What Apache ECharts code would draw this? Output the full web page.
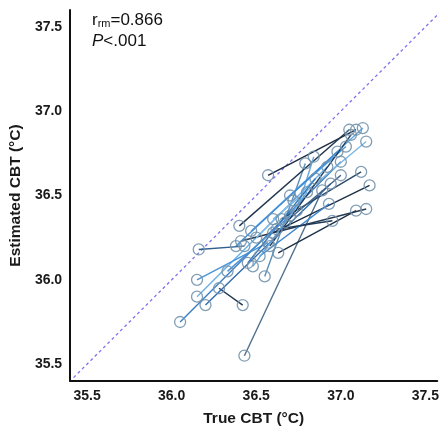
<!DOCTYPE html>
<html>
<head>
	<meta charset="UTF-8">
	<title>True vs estimated CBT</title>
	<script src="https://cdn.jsdelivr.net/npm/echarts@6/dist/echarts.min.js"></script>
	<style>
		html, body { margin: 0; padding: 0; background: #fff; }
		#chart { width: 442px; height: 432px; }
	</style>
</head>
<body>
	<div id="chart"></div>
	<script type="text/javascript">
		// 每个受试者的两次测量：真实核心体温 / 估计核心体温
		var trueCbt = [
			[36.57, 37.09], [36.05, 37.00], [36.43, 36.89], [36.42, 36.28],
			[36.20, 36.94], [36.15, 36.92], [36.15, 36.57], [36.16, 36.43],
			[36.55, 36.79], [36.63, 37.09], [36.40, 37.05], [36.47, 37.13],
			[36.41, 37.15], [36.60, 37.17], [36.60, 37.15], [36.65, 37.12],
			[36.70, 37.03], [36.67, 37.00], [36.52, 36.93], [36.74, 36.84],
			[36.45, 36.85], [36.50, 36.72], [36.62, 36.95], [36.38, 36.98],
			[36.48, 36.80], [36.58, 37.06], [36.33, 36.70]
		];
		var estCbt = [
			[36.62, 36.89], [35.75, 36.70], [35.55, 36.53], [35.85, 35.95],
			[35.85, 36.57], [35.90, 36.67], [36.00, 36.22], [36.18, 36.20],
			[36.02, 36.69], [36.16, 36.41], [36.32, 36.89], [36.29, 36.90],
			[36.23, 36.42], [36.28, 36.56], [36.36, 36.82], [36.36, 36.64],
			[36.50, 36.79], [36.34, 36.62], [36.14, 36.45], [36.41, 36.73],
			[36.10, 36.60], [36.25, 36.47], [36.30, 36.35], [36.20, 36.76],
			[36.08, 36.52], [36.20, 36.86], [36.05, 36.38]
		];
		var lineColors = [
			'#1c2b3f', '#3b7fc4', '#4f6f8c', '#1f3550', '#2f6bab', '#6ab0e6',
			'#4a94d8', '#2e5f8f', '#5a8fb8', '#1f3148', '#22364e', '#5aa8e8',
			'#263a52', '#1d3045', '#7cb8e6', '#2b4866', '#4b9ae0', '#3a5f85',
			'#3f88cf', '#68a9dc', '#2d74bd', '#7fbbe8', '#223a55', '#3d8ad6',
			'#5fa6e4', '#1e3a5c', '#4c8fd0'
		];
		var tickValues = [35.5, 36.0, 36.5, 37.0, 37.5];
		var identityLine = [35.42, 37.7];

		var myChart = echarts.init(document.getElementById('chart'));

		var series = [{
			type: 'line',
			data: identityLine.map(function (v) { return [v, v]; }),
			symbol: 'none',
			silent: true,
			clip: false,
			lineStyle: { color: '#7d72f0', width: 1.3, type: [3, 3] },
			z: 1
		}];

		trueCbt.forEach(function (xs, i) {
			series.push({
				type: 'line',
				data: xs.map(function (x, j) { return [x, estCbt[i][j]]; }),
				symbol: 'circle',
				symbolSize: 11,
				lineStyle: { color: lineColors[i], width: 1.4 },
				itemStyle: { color: 'rgba(0,0,0,0)', borderColor: '#7394ad', borderWidth: 1.3, opacity: 0.9 },
				z: 2
			});
		});

		var labelFont = { fontFamily: 'Liberation Sans', fontWeight: 'bold', fontSize: 14, color: '#1a1a1a' };
		var nameFont = { fontFamily: 'Liberation Sans', fontWeight: 'bold', fontSize: 15.5, color: '#1a1a1a' };

		var option = {
			animation: false,
			grid: { left: 69, right: 0, top: 10, bottom: 42, containLabel: false },
			xAxis: {
				type: 'value',
				min: 35.4,
				max: 37.57,
				name: 'True CBT (°C)',
				nameLocation: 'middle',
				nameGap: 30,
				nameTextStyle: nameFont,
				axisLine: { lineStyle: { color: '#111', width: 2 } },
				axisTick: { show: false },
				splitLine: { show: false },
				axisLabel: Object.assign({
					customValues: tickValues,
					margin: 8,
					formatter: function (v) { return v.toFixed(1); }
				}, labelFont)
			},
			yAxis: {
				type: 'value',
				min: 35.4,
				max: 37.6,
				name: 'Estimated CBT (°C)',
				nameLocation: 'middle',
				nameGap: 38,
				nameTextStyle: nameFont,
				axisLine: { lineStyle: { color: '#111', width: 2 } },
				axisTick: { show: false },
				splitLine: { show: false },
				axisLabel: Object.assign({
					customValues: tickValues,
					margin: 8,
					formatter: function (v) { return v.toFixed(1); }
				}, labelFont)
			},
			graphic: [{
				type: 'text',
				left: 92,
				top: 12,
				style: {
					text: '{r|r}{sub|rm}{r|=0.866}',
					rich: {
						r: { fontFamily: 'Liberation Sans', fontSize: 17, fill: '#111' },
						sub: { fontFamily: 'Liberation Sans', fontSize: 11, fill: '#111', verticalAlign: 'bottom', padding: [7, 0, 0, 0] }
					}
				}
			}, {
				type: 'text',
				left: 92,
				top: 33,
				style: {
					text: '{p|P}{r|<.001}',
					rich: {
						p: { fontFamily: 'Liberation Sans', fontStyle: 'italic', fontSize: 17, fill: '#111' },
						r: { fontFamily: 'Liberation Sans', fontSize: 17, fill: '#111' }
					}
				}
			}],
			series: series
		};

		myChart.setOption(option);
	</script>
</body>
</html>
